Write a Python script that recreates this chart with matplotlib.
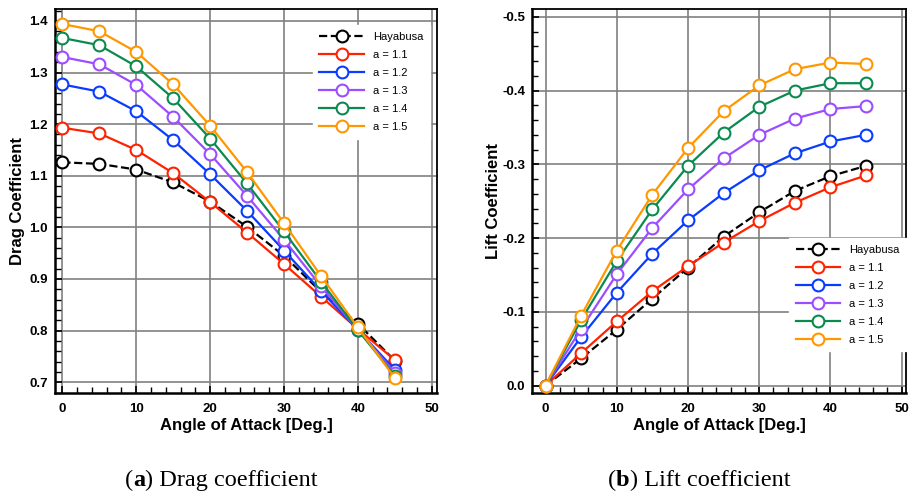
import matplotlib
matplotlib.use("Agg")
import matplotlib.pyplot as plt
from matplotlib.ticker import MultipleLocator

plt.rcParams["font.family"] = ["Liberation Sans", "DejaVu Sans"]

angle = [0, 5, 10, 15, 20, 25, 30, 35, 40, 45]
labels = ["Hayabusa", "a = 1.1", "a = 1.2", "a = 1.3", "a = 1.4", "a = 1.5"]
colors = ["black", "#ff2200", "#0a3cff", "#9b4dff", "#0a8a4f", "#ff9800"]

# 阻力系数
cd_hayabusa = [1.126, 1.123, 1.112, 1.087, 1.050, 1.001, 0.945, 0.875, 0.813, 0.742]
cd_a11 = [1.193, 1.182, 1.150, 1.105, 1.049, 0.990, 0.929, 0.866, 0.803, 0.743]
cd_a12 = [1.277, 1.263, 1.225, 1.169, 1.103, 1.032, 0.955, 0.877, 0.801, 0.724]
cd_a13 = [1.330, 1.316, 1.276, 1.214, 1.142, 1.061, 0.976, 0.886, 0.801, 0.718]
cd_a14 = [1.367, 1.353, 1.312, 1.250, 1.172, 1.085, 0.992, 0.895, 0.801, 0.712]
cd_a15 = [1.394, 1.380, 1.340, 1.277, 1.197, 1.107, 1.008, 0.906, 0.806, 0.708]

# 升力系数
cl_hayabusa = [0.0, -0.037, -0.076, -0.118, -0.160, -0.202, -0.235, -0.264, -0.284, -0.298]
cl_a11 = [0.0, -0.044, -0.087, -0.128, -0.162, -0.194, -0.223, -0.248, -0.269, -0.285]
cl_a12 = [0.0, -0.066, -0.126, -0.179, -0.224, -0.261, -0.292, -0.315, -0.331, -0.340]
cl_a13 = [0.0, -0.077, -0.151, -0.214, -0.266, -0.308, -0.340, -0.362, -0.375, -0.379]
cl_a14 = [0.0, -0.089, -0.169, -0.239, -0.298, -0.343, -0.378, -0.400, -0.410, -0.410]
cl_a15 = [0.0, -0.095, -0.183, -0.259, -0.322, -0.372, -0.407, -0.429, -0.438, -0.436]

cd_all = [cd_hayabusa, cd_a11, cd_a12, cd_a13, cd_a14, cd_a15]
cl_all = [cl_hayabusa, cl_a11, cl_a12, cl_a13, cl_a14, cl_a15]

fig = plt.figure(figsize=(9.1, 4.98), dpi=100)
ax1 = fig.add_axes([0.0604, 0.2108, 0.4198, 0.771])
ax2 = fig.add_axes([0.5846, 0.2108, 0.411, 0.771])


def draw(ax, data):
    for i, (vals, lab, c) in enumerate(zip(data, labels, colors)):
        ls = "--" if i == 0 else "-"
        ax.plot(angle, vals, ls, color=c, lw=1.6, marker="o", ms=8.5,
                mfc="white", mec=c, mew=1.5, label=lab, zorder=3 + i)
    ax.grid(True, which="major", color="#808080", lw=1.2, zorder=0)
    ax.set_axisbelow(True)
    ax.xaxis.set_major_locator(MultipleLocator(10))
    ax.xaxis.set_minor_locator(MultipleLocator(2))
    ax.yaxis.set_major_locator(MultipleLocator(0.1))
    ax.yaxis.set_minor_locator(MultipleLocator(0.02))
    ax.tick_params(which="both", direction="in", top=False, right=False)
    ax.tick_params(which="major", length=5, width=1.2, labelsize=9.5, pad=7)
    ax.tick_params(axis="y", which="major", pad=5)
    ax.tick_params(which="minor", length=4, width=1.0)
    for s in ax.spines.values():
        s.set_color("black")
        s.set_linewidth(1.3)
    ax.spines["left"].set_linewidth(1.8)
    ax.spines["bottom"].set_linewidth(1.8)
    ax.set_xlabel("Angle of Attack [Deg.]", fontsize=12, fontweight="bold", labelpad=2)


draw(ax1, cd_all)
ax1.set_xlim(-1.0, 50.7)
ax1.set_ylim(0.679, 1.423)
ax1.yaxis.set_major_formatter(lambda v, p: f"{v:.1f}")
ax1.set_ylabel("Drag Coefficient", fontsize=12, fontweight="bold", labelpad=3)
ax1.legend(loc="upper left", bbox_to_anchor=(0.66, 0.972), fontsize=8,
           handlelength=4.0, labelspacing=0.72, frameon=True, fancybox=False,
           framealpha=1, edgecolor="white", borderpad=0.6)

draw(ax2, cl_all)
ax2.set_xlim(-1.9, 50.6)
ax2.set_ylim(0.01, -0.5105)
ax2.yaxis.set_major_formatter(lambda v, p: f"{v:.1f}".replace("-0.0", "0.0"))
ax2.set_ylabel("Lift Coefficient", fontsize=12, fontweight="bold", labelpad=1)
ax2.legend(loc="upper left", bbox_to_anchor=(0.672, 0.418), fontsize=8,
           handlelength=4.0, labelspacing=0.72, frameon=True, fancybox=False,
           framealpha=1, edgecolor="white", borderpad=0.6)

for ax in (ax1, ax2):
    for lbl in ax.get_xticklabels() + ax.get_yticklabels():
        lbl.set_fontweight("bold")

# 子图标题
cap = dict(fontsize=17.5, family="Liberation Serif")


def caption(x, letter, rest):
    t1 = fig.text(x, 0.035, "(", va="center", ha="left", **cap)
    a2 = plt.annotate(letter, xy=(1, 0), xycoords=t1, va="bottom", ha="left",
                      fontweight="bold", annotation_clip=False, **cap)
    a3 = plt.annotate(rest, xy=(1, 0), xycoords=a2, va="bottom", ha="left",
                      annotation_clip=False, **cap)
    return a3


caption(0.137, "a", ") Drag coefficient")
caption(0.668, "b", ") Lift coefficient")

fig.savefig("out.png", dpi=100)
